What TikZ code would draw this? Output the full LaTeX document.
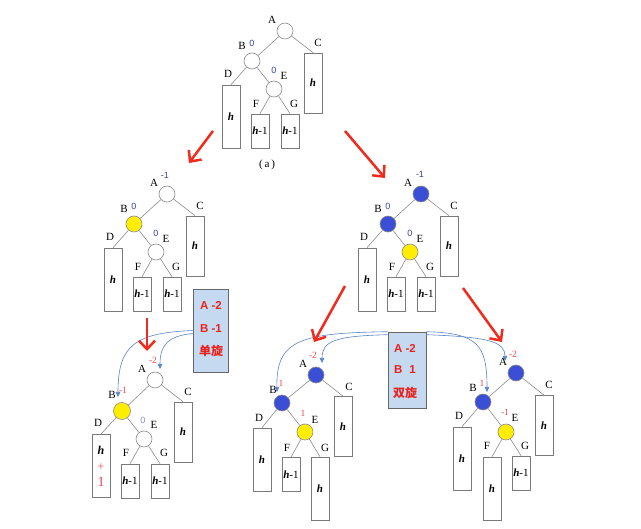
\documentclass[tikz,border=0pt]{standalone}
\usepackage{fontspec}
\setmainfont{Liberation Serif}
\setsansfont{Liberation Sans}
\newfontfamily\cjkfont{Noto Sans CJK SC}
\usetikzlibrary{arrows.meta}
\definecolor{edgegray}{HTML}{8C8C8C}
\definecolor{boxgray}{HTML}{7A7A7A}
\definecolor{nblue}{HTML}{3A4FD5}
\definecolor{nyellow}{HTML}{FFEE00}
\definecolor{valblue}{HTML}{3344AA}
\definecolor{valred}{HTML}{F04848}
\definecolor{arrred}{HTML}{F22A1E}
\definecolor{boxfill}{HTML}{C5D9F1}
\definecolor{curveblue}{HTML}{5A85C8}
\definecolor{boxtext}{HTML}{E8231E}
\newcommand\myh{\textbf{\textit{h}}}
\newcommand\treelabels[1]{%
\node[lab] (#1Al) at (-13,-11) {A};
\node[lab] (#1Bl) at (-43,15) {B};
\node[lab] (#1El) at (-1,45) {E};
\node[lab] (#1Dl) at (-57,43) {D};
\node[lab] (#1Fl) at (-29,73) {F};
\node[lab] (#1Gl) at (9,73) {G};
\node[lab] (#1Cl) at (33,12) {C};}
\newcommand\treeedges[1]{%
\draw[edge] (#1A)--(#1B) (#1A)--(#1C.north) (#1B)--(#1D.north) (#1B)--(#1E) (#1E)--(#1F.north) (#1E)--(#1G.north);}
\tikzset{
  nd/.style={circle, draw=edgegray, line width=0.6pt, minimum size=16pt, inner sep=0pt, fill=white},
  ndb/.style={nd, fill=nblue},
  ndy/.style={nd, fill=nyellow},
  sub/.style={draw=boxgray, line width=0.7pt, minimum width=18pt, inner sep=0pt, fill=white, font=\fontsize{11}{13}\selectfont},
  tallsub/.style={sub, minimum height=63pt},
  shortsub/.style={sub, minimum height=34pt},
  csub/.style={sub, minimum height=60pt},
  lab/.style={font=\fontsize{11}{12}\selectfont, inner sep=0pt},
  vb/.style={font=\sffamily\fontsize{9}{10}\selectfont, text=valblue, inner sep=0pt},
  vr/.style={font=\fontsize{9.5}{10}\selectfont, text=valred, inner sep=0pt},
  edge/.style={draw=edgegray, line width=0.6pt},
  redarr/.style={draw=arrred, line width=2.5pt, -{Straight Barb[length=8.5pt,width=16pt]}},
  bluearr/.style={draw=curveblue, line width=0.6pt, -{Triangle[length=5pt,width=4.5pt]}, fill=none},
  bbox/.style={draw=gray!80!black, fill=boxfill, line width=0.6pt, inner sep=0pt},
  btxt/.style={text=boxtext, font=\sffamily\bfseries\fontsize{11.5}{13}\selectfont, inner sep=0pt},
}
\begin{document}
\begin{tikzpicture}[x=1pt,y=-1pt]
\useasboundingbox (0,0) rectangle (641,529);
\fill[white] (0,0) rectangle (641,529);

% ---- top tree (a)
\begin{scope}[shift={(285,31)}]
\node[nd] (tA) at (0,0) {};
\node[nd] (tB) at (-33,30) {};
\node[nd] (tE) at (-11,58) {};
\node[tallsub] (tD) at (-54,85.5) {\myh};
\node[shortsub] (tF) at (-25,100) {\myh-1};
\node[shortsub] (tG) at (5,100) {\myh-1};
\node[csub] (tC) at (28,52) {\myh};
\treelabels{t}
\node[vb] (tBv) at (-33,12) {0};
\node[vb] (tEv) at (-11,39) {0};
\treeedges{t}
\end{scope}
\node[lab] (capa) at (267,165) {(\,a\,)};

% ---- middle left
\begin{scope}[shift={(167,194)}]
\node[nd] (mlA) at (0,0) {};
\node[ndy] (mlB) at (-33,30) {};
\node[nd] (mlE) at (-11,58) {};
\node[tallsub] (mlD) at (-54,85.5) {\myh};
\node[shortsub] (mlF) at (-25,100) {\myh-1};
\node[shortsub] (mlG) at (5,100) {\myh-1};
\node[csub] (mlC) at (28,52) {\myh};
\treelabels{ml}
\node[vb] (mlAv) at (-2,-19) {-1};
\node[vb] (mlBv) at (-33,12) {0};
\node[vb] (mlEv) at (-11,39) {0};
\treeedges{ml}
\end{scope}

% ---- middle right
\begin{scope}[shift={(421,194)}]
\node[ndb] (mrA) at (0,0) {};
\node[ndb] (mrB) at (-33,30) {};
\node[ndy] (mrE) at (-11,58) {};
\node[tallsub] (mrD) at (-54,85.5) {\myh};
\node[shortsub] (mrF) at (-25,100) {\myh-1};
\node[shortsub] (mrG) at (5,100) {\myh-1};
\node[csub] (mrC) at (28,52) {\myh};
\treelabels{mr}
\node[vb] (mrAv) at (-1,-20) {-1};
\node[vb] (mrBv) at (-33,12) {0};
\node[vb] (mrEv) at (-11,39) {0};
\treeedges{mr}
\end{scope}

% ---- bottom left
\begin{scope}[shift={(155,380)}]
\node[nd] (blA) at (0,0) {};
\node[ndy, minimum size=17pt] (blB) at (-33,31) {};
\node[nd] (blE) at (-11,59) {};
\node[tallsub, align=center, font=\fontsize{12}{16}\selectfont] (blD) at (-54,86) {\myh\\\textcolor{valred}{+}\\\textcolor{valred}{\fontsize{14}{16}\selectfont 1}};
\node[shortsub] (blF) at (-25,101) {\myh-1};
\node[shortsub] (blG) at (5,101) {\myh-1};
\node[csub] (blC) at (28,52) {\myh};
\treelabels{bl}
\node[vr] (blAv) at (-2,-20) {-2};
\node[vr] (blBv) at (-32,10) {-1};
\node[vb, opacity=0.6] (blEv) at (-12,40) {0};
\treeedges{bl}
\end{scope}

% ---- bottom middle
\begin{scope}[shift={(316,375)}]
\node[ndb] (bmA) at (0,0) {};
\node[ndb] (bmB) at (-34,28) {};
\node[ndy] (bmE) at (-11,57) {};
\node[tallsub] (bmD) at (-54,84.5) {\myh};
\node[shortsub] (bmF) at (-25,99.5) {\myh-1};
\node[tallsub] (bmG) at (4,113.5) {\myh};
\node[csub] (bmC) at (27,51.5) {\myh};
\treelabels{bm}
\node[vr] (bmAv) at (-3,-20) {-2};
\node[vr] (bmBv) at (-35,8) {1};
\node[vr] (bmEv) at (-13,38) {1};
\treeedges{bm}
\end{scope}

% ---- bottom right
\begin{scope}[shift={(516,373)}]
\node[ndb] (brA) at (0,0) {};
\node[ndb] (brB) at (-33,29) {};
\node[ndy] (brE) at (-10,59) {};
\node[tallsub] (brD) at (-54,85.5) {\myh};
\node[tallsub] (brF) at (-24,115.5) {\myh};
\node[shortsub] (brG) at (5,100) {\myh-1};
\node[csub] (brC) at (28,52.5) {\myh};
\treelabels{br}
\node[vr] (brAv) at (-3,-19) {-2};
\node[vr] (brBv) at (-34,10) {1};
\node[vr] (brEv) at (-11,39) {-1};
\treeedges{br}
\end{scope}

% ---- info boxes
\node[bbox, minimum width=35pt, minimum height=83pt] (box1) at (210.5,330.5) {};
\node[btxt] (b1a) at (211,305) {A -2};
\node[btxt] (b1b) at (211,329) {B -1};
\node[btxt, font=\cjkfont\bfseries\fontsize{12}{13}\selectfont] (b1c) at (211,351) {单旋};

\node[bbox, minimum width=38pt, minimum height=76pt] (box2) at (407,370) {};
\node[btxt] (b2a) at (405,348) {A -2};
\node[btxt] (b2b) at (405,370) {B\hspace{7pt}1};
\node[btxt, font=\cjkfont\bfseries\fontsize{12}{13}\selectfont] (b2c) at (405,393) {双旋};

% ---- blue curved pointers
\coordinate (tipBL1) at (118,397);
\coordinate (tipBL2) at (160,369);
\coordinate (tipBM1) at (277,392);
\coordinate (tipBM2) at (322,363);
\coordinate (tipBR1) at (487,392);
\coordinate (tipBR2) at (505,361);
\draw[bluearr] (box1.west) .. controls (135,333) and (118,345) .. (tipBL1);
\draw[bluearr] ([yshift=-3pt]box1.west) .. controls (168,336) and (160,345) .. (tipBL2);
\draw[bluearr] (box2.north west) .. controls (300,333) and (276,340) .. (tipBM1);
\draw[bluearr] ([yshift=-3pt]box2.north west) .. controls (335,336) and (322,341) .. (tipBM2);
\draw[bluearr] (box2.north east) .. controls (478,333) and (487,345) .. (tipBR1);
\draw[bluearr] ([yshift=-3pt]box2.north east) .. controls (490,337) and (505,342) .. (tipBR2);

% ---- red arrows
\coordinate (r1s) at (213,131); \coordinate (r1e) at (189,163);
\coordinate (r2s) at (345,131); \coordinate (r2e) at (385,178);
\coordinate (r3s) at (147,318); \coordinate (r3e) at (147,351);
\coordinate (r4s) at (345,286); \coordinate (r4e) at (314,342);
\coordinate (r5s) at (463,288); \coordinate (r5e) at (502,342);
\draw[redarr] (r1s) -- (r1e);
\draw[redarr] (r2s) -- (r2e);
\draw[redarr] (r3s) -- (r3e);
\draw[redarr] (r4s) -- (r4e);
\draw[redarr] (r5s) -- (r5e);
\end{tikzpicture}
\end{document}
